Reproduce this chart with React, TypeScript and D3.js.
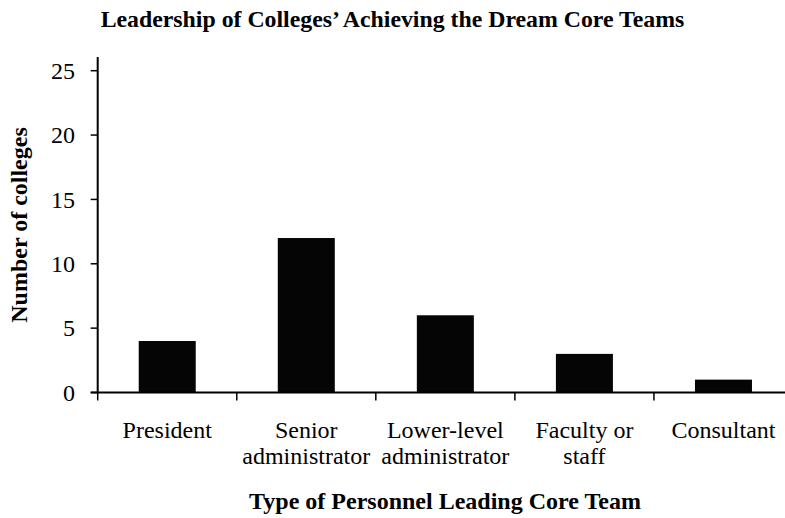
import React from "react";
import * as d3 from "d3";

const categories: string[][] = [
  ["President"],
  ["Senior", "administrator"],
  ["Lower-level", "administrator"],
  ["Faculty or", "staff"],
  ["Consultant"],
];
const values: number[] = [4, 12, 6, 3, 1];
const yTicks: number[] = [0, 5, 10, 15, 20, 25];
const title = "Leadership of Colleges’ Achieving the Dream Core Teams";
const xTitle = "Type of Personnel Leading Core Team";
const yTitle = "Number of colleges";

const W = 785;
const H = 518;
const FONT = "Liberation Serif";

export default function App() {
  const x0 = 97.7;
  const x = d3
    .scaleBand<number>()
    .domain(d3.range(categories.length))
    .range([x0, 793])
    .paddingInner(0.59)
    .paddingOuter(0.295);
  const step = x.step();
  const y = d3.scaleLinear().domain([0, 25]).range([392.5, 70.7]);
  const cx = (i: number) => (x(i) as number) + x.bandwidth() / 2;

  return (
    <svg
      width={W}
      height={H}
      style={{ position: "absolute", left: 0, top: 0, background: "#fff", fontFamily: FONT }}
    >
      <text x={W / 2} y={27} textAnchor="middle" fontWeight="bold" fontSize={23.8} style={{ fontFamily: FONT }}>
        {title}
      </text>
      {values.map((v, i) => (
        <rect
          key={i}
          x={x(i)}
          y={y(v)}
          width={x.bandwidth()}
          height={y(0) - y(v)}
          fill="#050505"
        />
      ))}
      <line x1={x0} x2={x0} y1={57} y2={y(0)} stroke="#000" strokeWidth={2} />
      <line x1={x0 - 7} x2={W} y1={y(0)} y2={y(0)} stroke="#000" strokeWidth={2} />
      {yTicks.map((t) => (
        <g key={t}>
          <line x1={x0 - 7} x2={x0} y1={y(t)} y2={y(t)} stroke="#000" strokeWidth={1.5} />
          <text x={75} y={y(t)} dy="0.34em" textAnchor="end" fontSize={24} style={{ fontFamily: FONT }}>
            {t}
          </text>
        </g>
      ))}
      {d3.range(categories.length + 1).map((i) => (
        <line
          key={i}
          x1={x0 + i * step}
          x2={x0 + i * step}
          y1={y(0)}
          y2={y(0) + 8}
          stroke="#000"
          strokeWidth={1.5}
        />
      ))}
      {categories.map((lines, i) => (
        <text key={i} x={cx(i)} y={438.3} textAnchor="middle" fontSize={24} style={{ fontFamily: FONT }}>
          {lines.map((l, j) => (
            <tspan key={j} x={cx(i)} dy={j === 0 ? 0 : 26}>
              {l}
            </tspan>
          ))}
        </text>
      ))}
      <text x={445} y={509} textAnchor="middle" fontWeight="bold" fontSize={24} style={{ fontFamily: FONT }}>
        {xTitle}
      </text>
      <text
        transform={`translate(27, 225) rotate(-90)`}
        textAnchor="middle"
        fontWeight="bold"
        fontSize={24}
        style={{ fontFamily: FONT }}
      >
        {yTitle}
      </text>
    </svg>
  );
}
